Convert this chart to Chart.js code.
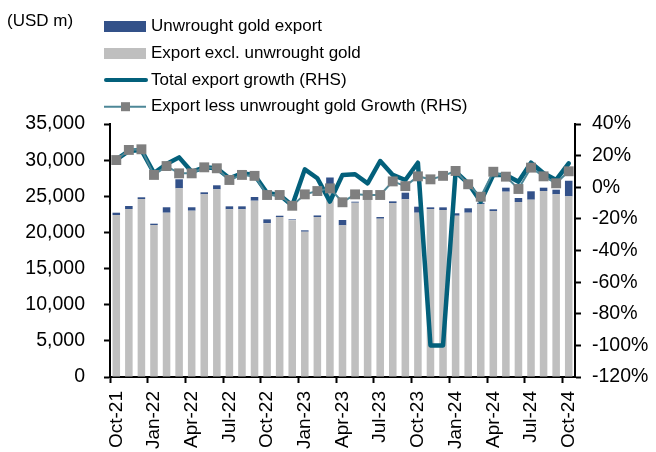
<!DOCTYPE html>
<html>
<head>
<meta charset="utf-8">
<script src="https://cdn.jsdelivr.net/npm/chart.js@4"></script>
<style>
  html, body { margin: 0; padding: 0; background: #fff; }
  canvas { display: block; }
</style>
</head>
<body>
<canvas id="chart" width="656" height="452"></canvas>
<script>
'use strict';

// --- Data (USD m, growth in %) ---
const months = ['Oct-21','Nov-21','Dec-21','Jan-22','Feb-22','Mar-22','Apr-22','May-22','Jun-22','Jul-22','Aug-22','Sep-22',
  'Oct-22','Nov-22','Dec-22','Jan-23','Feb-23','Mar-23','Apr-23','May-23','Jun-23','Jul-23','Aug-23','Sep-23',
  'Oct-23','Nov-23','Dec-23','Jan-24','Feb-24','Mar-24','Apr-24','May-24','Jun-24','Jul-24','Aug-24','Sep-24','Oct-24'];

const exportExGold = [22400, 23240, 24620, 21030, 22730, 26100, 23010, 25270, 25960, 23200, 23200, 24390,
  21280, 22130, 21700, 20100, 22130, 26700, 20980, 24110, 24700, 21900, 24070, 24580,
  22730, 23240, 23100, 22310, 22730, 23950, 22960, 25640, 24210, 24530, 25730, 25270, 24990];

const goldExport = [330, 420, 240, 180, 750, 1250, 470, 280, 560, 410, 410, 510,
  530, 180, 100, 190, 220, 900, 740, 140, 200, 230, 230, 920,
  830, 230, 370, 340, 610, 150, 240, 550, 550, 1160, 460, 640, 2160];

const totalGrowth = [17.5, 23, 23.5, 9, 14.7, 18.9, 9.8, 12.6, 12, 5.7, 8.8, 7.8,
  -3.6, -4.9, -11.5, 11.3, 5.7, -9.1, 7.8, 8.2, 2.5, 16.6, 7.8, 4.6,
  15.5, -100, -100, 9.8, 2.5, -9.1, 7.8, 7.8, 3.5, 15.5, 8.8, 4.6, 15.1];

const exGoldGrowth = [17.2, 23.6, 24.0, 7.8, 13.4, 8.8, 8.8, 12.6, 12.0, 4.6, 7.8, 7.2,
  -4.9, -4.9, -11.7, -4.5, -2.4, -0.7, -9.5, -4.5, -4.9, -4.9, 3.7, 0.7,
  6.9, 5.0, 7.2, 10.3, 1.9, -6.0, 9.8, 6.7, -1.1, 12.4, 6.9, 2.5, 10.1];

// --- Colours ---
const GOLD_BLUE = '#335189';
const GREY_BAR = '#bfbfbf';
const TEAL = '#03607b';
const THIN_TEAL = '#4d8797';
const MARKER_GREY = '#7f7f7f';

const FONT = '"Liberation Sans", Arial, sans-serif';

// --- Legend + unit label drawn by hand (vertical list in the top left) ---
const headerPlugin = {
  id: 'header',
  afterDraw(chart) {
    const ctx = chart.ctx;
    ctx.save();
    ctx.fillStyle = '#000';
    ctx.font = '17px ' + FONT;
    ctx.textBaseline = 'middle';
    ctx.textAlign = 'left';
    ctx.fillText('(USD m)', 7, 21);

    const x0 = 104, x1 = 146, tx = 151;
    const rows = [26.5, 53.5, 80, 106.7];
    const items = [
      { text: 'Unwrought gold export', type: 'box', color: GOLD_BLUE },
      { text: 'Export excl. unwrought gold', type: 'box', color: GREY_BAR },
      { text: 'Total export growth (RHS)', type: 'line', color: TEAL },
      { text: 'Export less unwrought gold Growth (RHS)', type: 'marker', color: THIN_TEAL }
    ];
    items.forEach((it, i) => {
      const y = rows[i];
      if (it.type === 'box') {
        ctx.fillStyle = it.color;
        ctx.fillRect(x0, y - 5.5, x1 - x0, 11);
      } else if (it.type === 'line') {
        ctx.strokeStyle = it.color;
        ctx.lineWidth = 4;
        ctx.lineCap = 'round';
        ctx.beginPath(); ctx.moveTo(x0 + 2, y); ctx.lineTo(x1, y); ctx.stroke();
      } else {
        ctx.strokeStyle = it.color;
        ctx.lineWidth = 2;
        ctx.lineCap = 'butt';
        ctx.beginPath(); ctx.moveTo(x0, y); ctx.lineTo(x1, y); ctx.stroke();
        ctx.fillStyle = MARKER_GREY;
        ctx.fillRect(121, y - 4.5, 9, 9);
      }
      ctx.fillStyle = '#000';
      ctx.fillText(it.text, tx, y);
    });
    ctx.restore();
  }
};

new Chart(document.getElementById('chart').getContext('2d'), {
  type: 'bar',
  data: {
    labels: months,
    datasets: [
      {
        type: 'line',
        label: 'Export less unwrought gold Growth (RHS)',
        data: exGoldGrowth,
        yAxisID: 'y1',
        borderColor: THIN_TEAL,
        borderWidth: 2,
        pointStyle: 'rect',
        pointRadius: 7,
        pointBackgroundColor: MARKER_GREY,
        pointBorderColor: MARKER_GREY,
        pointBorderWidth: 0,
        tension: 0,
        order: 1
      },
      {
        type: 'line',
        label: 'Total export growth (RHS)',
        data: totalGrowth,
        yAxisID: 'y1',
        borderColor: TEAL,
        borderWidth: 4.5,
        borderJoinStyle: 'round',
        borderCapStyle: 'round',
        pointRadius: 0,
        tension: 0,
        order: 2
      },
      {
        label: 'Export excl. unwrought gold',
        data: exportExGold,
        backgroundColor: GREY_BAR,
        stack: 'exp',
        barPercentage: 0.6,
        categoryPercentage: 1,
        order: 3
      },
      {
        label: 'Unwrought gold export',
        data: goldExport,
        backgroundColor: GOLD_BLUE,
        stack: 'exp',
        barPercentage: 0.6,
        categoryPercentage: 1,
        order: 3
      }
    ]
  },
  options: {
    responsive: false,
    animation: false,
    layout: { padding: { top: 124, left: 0, right: 0, bottom: 0 } },
    plugins: {
      legend: { display: false },
      tooltip: { enabled: false }
    },
    scales: {
      x: {
        stacked: true,
        afterFit: s => { s.height = 75; },
        grid: {
          offset: true,
          drawOnChartArea: false,
          drawTicks: true,
          tickLength: 6,
          tickWidth: 2,
          tickColor: c => (c.index !== undefined && c.index % 3 === 0) ? '#000' : 'rgba(0,0,0,0)'
        },
        border: { display: true, color: '#000', width: 2 },
        ticks: {
          autoSkip: false,
          minRotation: 90,
          maxRotation: 90,
          padding: 8,
          color: '#000',
          font: { family: FONT, size: 19 },
          callback: (v, i) => (i % 3 === 0 ? months[i] : '')
        }
      },
      y: {
        stacked: true,
        position: 'left',
        min: 0,
        max: 35000,
        afterFit: s => { s.width = 110; },
        grid: { drawOnChartArea: false, drawTicks: true, tickLength: 6, tickWidth: 2, tickColor: '#000' },
        border: { display: true, color: '#000', width: 2 },
        ticks: {
          stepSize: 5000,
          padding: 19,
          color: '#000',
          font: { family: FONT, size: 19.5 },
          callback: v => v.toLocaleString('en-US')
        }
      },
      y1: {
        position: 'right',
        min: -120,
        max: 40,
        afterFit: s => { s.width = 81; },
        grid: { drawOnChartArea: false, drawTicks: true, tickLength: 6, tickWidth: 2, tickColor: '#000' },
        border: { display: true, color: '#000', width: 2 },
        ticks: {
          stepSize: 20,
          padding: 11,
          color: '#000',
          font: { family: FONT, size: 19.5 },
          callback: v => v + '%'
        }
      }
    }
  },
  plugins: [headerPlugin]
});
</script>
</body>
</html>
